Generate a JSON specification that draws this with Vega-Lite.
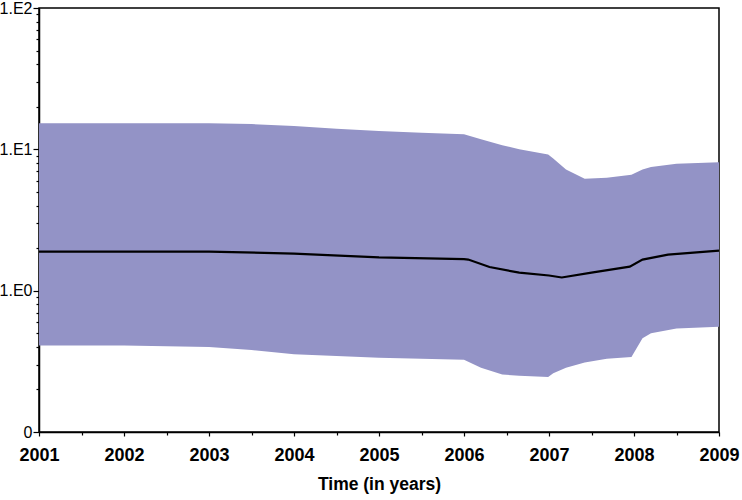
{
  "$schema": "https://vega.github.io/schema/vega-lite/v6.json",
  "width": 680,
  "height": 424,
  "autosize": "none",
  "padding": {"left": 39, "top": 8, "right": 23, "bottom": 68},
  "background": "white",
  "config": {
    "view": {"stroke": "black", "strokeWidth": 1.5},
    "axis": {"grid": false, "domainColor": "black", "domainWidth": 1.5, "tickColor": "black", "tickWidth": 1.2, "labelColor": "black", "titleColor": "black", "labelFont": "Liberation Sans", "titleFont": "Liberation Sans", "labelFlush": false, "labelOverlap": false}
  },
  "datasets": {
    "band": [
      {"t": 2001.0, "lower": 0.41, "upper": 15.3},
      {"t": 2002.0, "lower": 0.41, "upper": 15.3},
      {"t": 2003.0, "lower": 0.40, "upper": 15.3},
      {"t": 2003.5, "lower": 0.38, "upper": 15.1},
      {"t": 2004.0, "lower": 0.355, "upper": 14.6},
      {"t": 2004.5, "lower": 0.345, "upper": 14.0},
      {"t": 2005.0, "lower": 0.335, "upper": 13.5},
      {"t": 2005.5, "lower": 0.33, "upper": 13.1},
      {"t": 2006.0, "lower": 0.325, "upper": 12.8},
      {"t": 2006.2, "lower": 0.285, "upper": 11.8},
      {"t": 2006.45, "lower": 0.255, "upper": 10.7},
      {"t": 2006.65, "lower": 0.25, "upper": 10.0},
      {"t": 2006.99, "lower": 0.245, "upper": 9.2},
      {"t": 2007.05, "lower": 0.26, "upper": 8.6},
      {"t": 2007.2, "lower": 0.285, "upper": 7.2},
      {"t": 2007.42, "lower": 0.31, "upper": 6.2},
      {"t": 2007.68, "lower": 0.33, "upper": 6.3},
      {"t": 2007.97, "lower": 0.34, "upper": 6.6},
      {"t": 2008.1, "lower": 0.46, "upper": 7.2},
      {"t": 2008.2, "lower": 0.50, "upper": 7.5},
      {"t": 2008.5, "lower": 0.54, "upper": 7.9},
      {"t": 2009.0, "lower": 0.555, "upper": 8.1}
    ],
    "median": [
      {"t": 2001.0, "median": 1.89},
      {"t": 2003.0, "median": 1.89},
      {"t": 2004.0, "median": 1.83},
      {"t": 2005.0, "median": 1.72},
      {"t": 2006.0, "median": 1.67},
      {"t": 2006.05, "median": 1.66},
      {"t": 2006.3, "median": 1.47},
      {"t": 2006.65, "median": 1.34},
      {"t": 2007.0, "median": 1.28},
      {"t": 2007.15, "median": 1.24},
      {"t": 2007.5, "median": 1.34},
      {"t": 2007.95, "median": 1.48},
      {"t": 2008.1, "median": 1.66},
      {"t": 2008.4, "median": 1.80},
      {"t": 2009.0, "median": 1.92}
    ]
  },
  "layer": [
    {
      "data": {"name": "band"},
      "mark": {"type": "area", "color": "#9393C6", "opacity": 1},
      "encoding": {
        "x": {"field": "t", "type": "quantitative",
          "scale": {"domain": [2001, 2009], "nice": false, "zero": false},
          "axis": {"orient": "bottom", "values": [2001, 2002, 2003, 2004, 2005, 2006, 2007, 2008, 2009], "format": "d", "tickSize": 4, "labelPadding": 10, "labelFontSize": 18, "labelFontWeight": "bold", "title": "Time (in years)", "titleFontSize": 17.5, "titleFontWeight": "bold", "titlePadding": 11}},
        "y": {"field": "upper", "type": "quantitative",
          "scale": {"type": "log", "domain": [0.1, 100], "nice": false},
          "axis": {"orient": "left", "values": [0.1, 1, 10, 100], "labelExpr": "datum.value < 0.5 ? '0' : datum.value < 5 ? '1.E0' : datum.value < 50 ? '1.E1' : '1.E2'", "tickSize": 6, "labelPadding": 1, "labelFontSize": 16, "title": null}},
        "y2": {"field": "lower"}
      }
    },
    {
      "data": {"name": "median"},
      "mark": {"type": "line", "color": "black", "strokeWidth": 2.2},
      "encoding": {
        "x": {"field": "t", "type": "quantitative",
          "axis": {"orient": "bottom", "values": [2001.5, 2002.5, 2003.5, 2004.5, 2005.5, 2006.5, 2007.5, 2008.5], "labels": false, "domain": false, "tickSize": 3, "title": null}},
        "y": {"field": "median", "type": "quantitative",
          "axis": {"orient": "left", "values": [0.2, 0.3, 0.4, 0.5, 0.6, 0.7, 0.8, 0.9, 2, 3, 4, 5, 6, 7, 8, 9, 20, 30, 40, 50, 60, 70, 80, 90], "labels": false, "domain": false, "tickSize": 3, "title": null}}
      }
    }
  ],
  "resolve": {"axis": {"x": "independent", "y": "independent"}}
}
